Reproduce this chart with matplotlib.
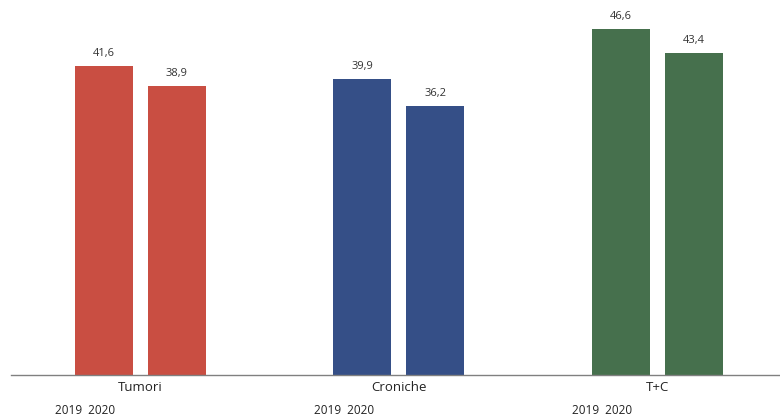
import matplotlib
matplotlib.use("Agg")
import matplotlib.pyplot as plt
import numpy as np

categories = ["Tumori", "Croniche", "T+C"]
years = ["2019", "2020"]
values_2019 = [41.6, 39.9, 46.6]
values_2020 = [38.9, 36.2, 43.4]
colors = ["#C94E42", "#354F87", "#46704D"]

plt.rcParams["font.family"] = ["Open Sans", "DejaVu Sans"]

fig = plt.figure(figsize=(7.8, 4.17), dpi=100)
ax = fig.add_axes([11 / 780, 42 / 417, 775.5 / 780, 371 / 417])

x = np.arange(len(categories))
width = 0.224
offset = 0.141

for i, (v19, v20) in enumerate(zip(values_2019, values_2020)):
    for dx, v in ((-offset, v19), (offset, v20)):
        ax.bar(x[i] + dx, v, width=width, color=colors[i], linewidth=0)
        ax.annotate(f"{v:.1f}".replace(".", ","), (x[i] + dx, v),
                    xytext=(0, 5), textcoords="offset points",
                    ha="center", va="bottom", fontsize=8, color="#333333")

ax.set_xlim(-0.5, len(categories) - 0.5)
ax.set_ylim(0, 50)

for s in ("top", "right", "left"):
    ax.spines[s].set_visible(False)
ax.spines["bottom"].set_color("#808080")
ax.spines["bottom"].set_linewidth(1.0)
ax.set_yticks([])
ax.set_xticks(x)
ax.set_xticklabels(categories, fontsize=9.5, color="#222222")
ax.tick_params(axis="x", length=0, pad=4)

# year captions under each group
for i in range(len(categories)):
    ax.annotate("  ".join(years), (x[i], 0), xytext=(-55 / 1.389, -36 / 1.389),
                textcoords="offset points", ha="center", va="center",
                fontsize=8.5, color="#222222", annotation_clip=False)

fig.savefig("out.png", dpi=100)
